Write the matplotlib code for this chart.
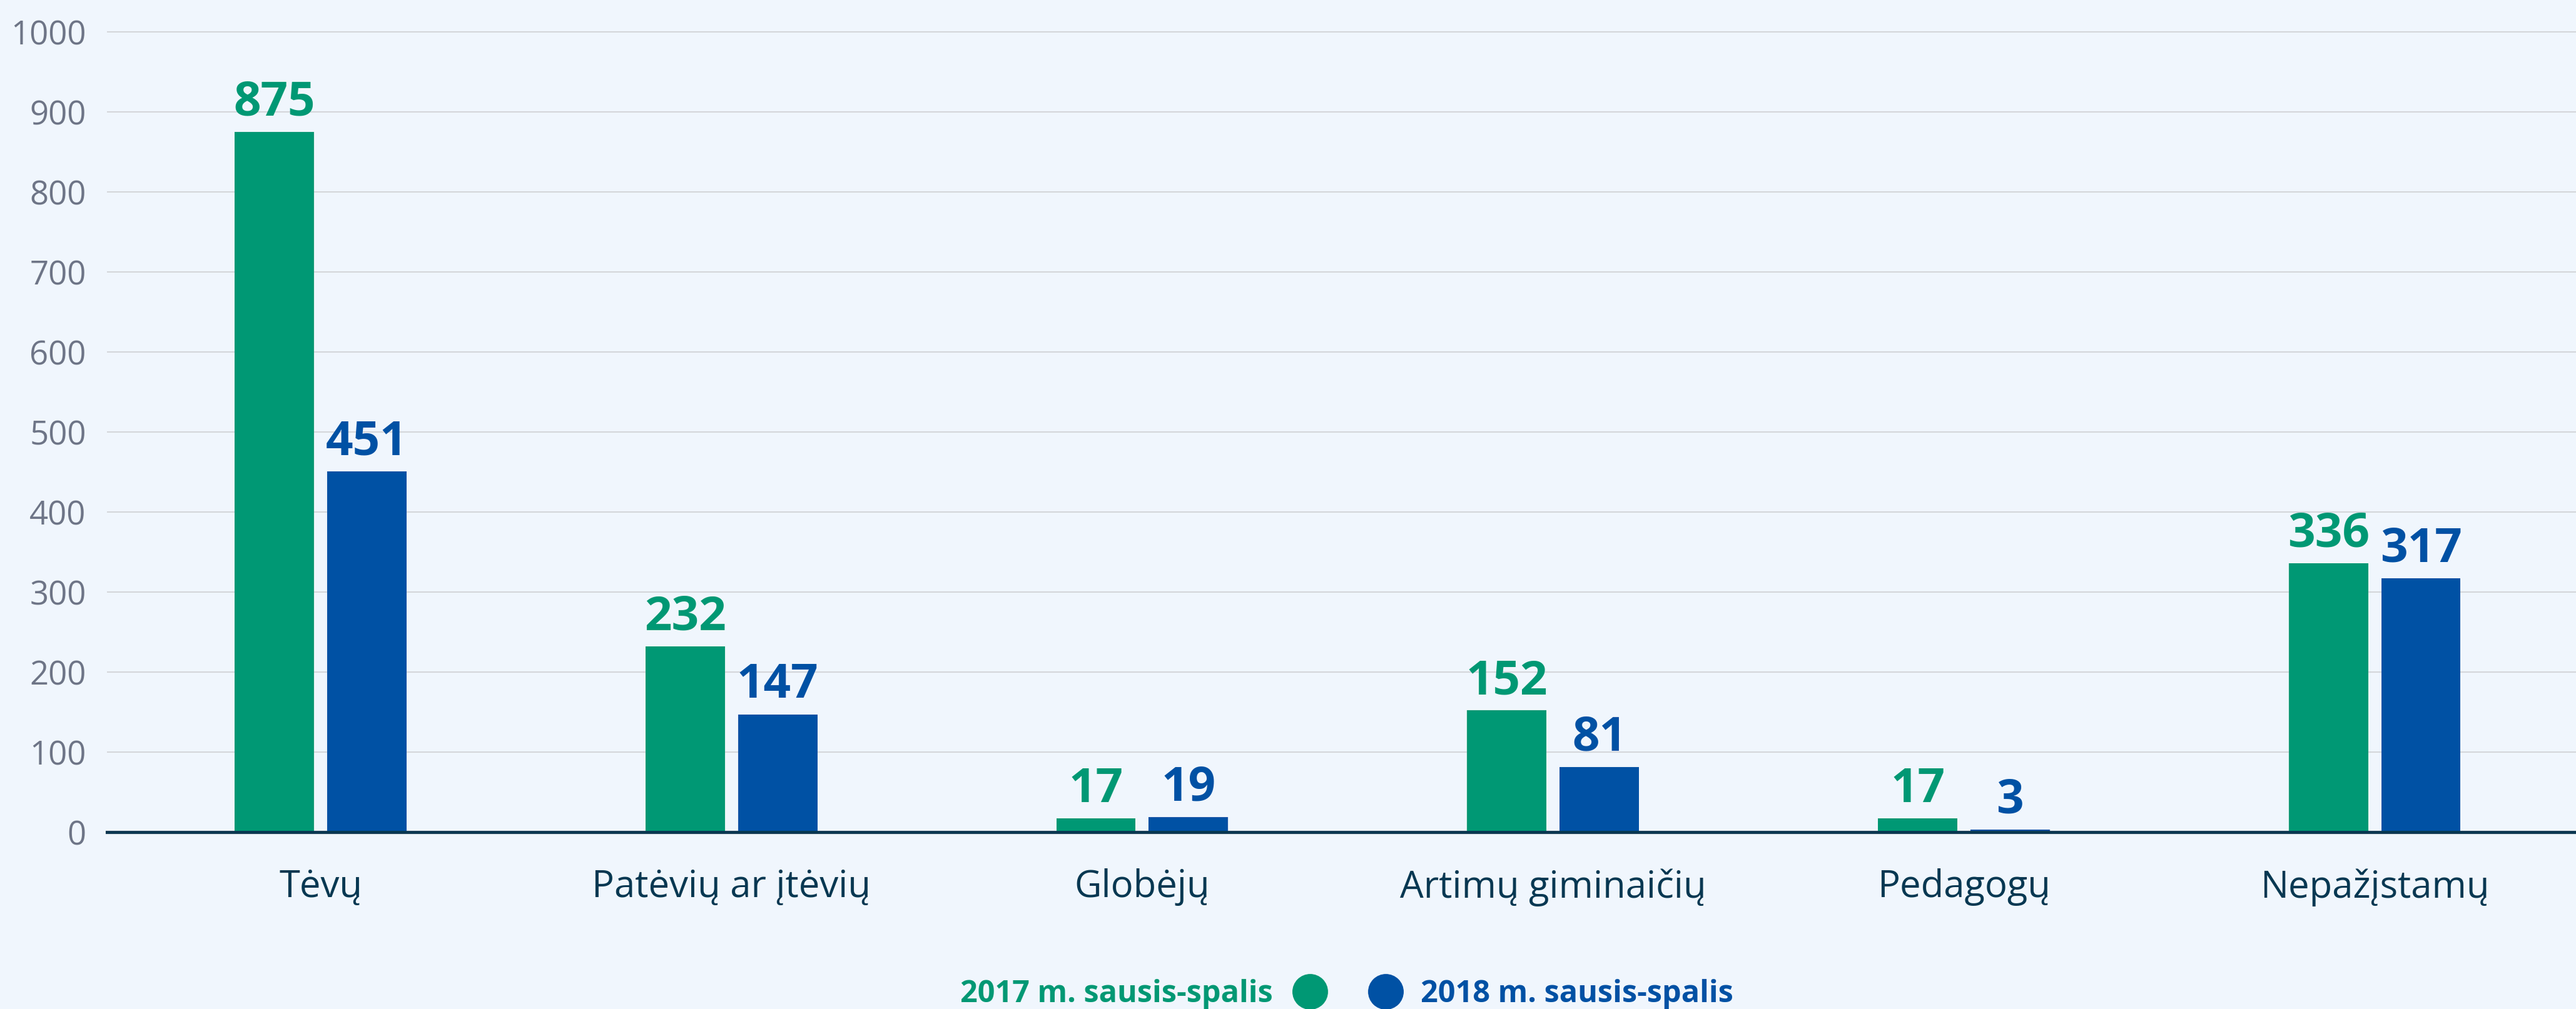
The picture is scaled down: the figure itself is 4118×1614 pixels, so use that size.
import numpy as np
import matplotlib
matplotlib.use("Agg")
import matplotlib.pyplot as plt

categories = ["Tėvų", "Patėvių ar įtėvių", "Globėjų", "Artimų giminaičių", "Pedagogų", "Nepažįstamų"]
values_2017 = [875, 232, 17, 152, 17, 336]
values_2018 = [451, 147, 19, 81, 3, 317]
series_names = ["2017 m. sausis-spalis", "2018 m. sausis-spalis"]
yticks = [0, 100, 200, 300, 400, 500, 600, 700, 800, 900, 1000]

GREEN = "#009874"
BLUE = "#0051A4"
NAVY = "#073852"
BG = "#F0F6FD"

plt.rcParams["font.family"] = ["Open Sans", "DejaVu Sans"]

fig = plt.figure(figsize=(41.18, 16.14), dpi=100, facecolor=BG)
ax = fig.add_axes([171 / 4118, 1 - 1331 / 1614, 1 - 171 / 4118, (1331 - 38) / 1614])
ax.set_facecolor(BG)

x = np.arange(len(categories))
w = 0.193
off = 0.1125
b1 = ax.bar(x - off, values_2017, w, color=GREEN, zorder=3)
b2 = ax.bar(x + off, values_2018, w, color=BLUE, zorder=3)

# value labels above each bar
for bars, vals, col in [(b1, values_2017, GREEN), (b2, values_2018, BLUE)]:
    for rect, v in zip(bars, vals):
        ax.annotate(str(v), (rect.get_x() + rect.get_width() / 2, v),
                    xytext=(0, 19), textcoords="offset points",
                    ha="center", va="baseline", fontsize=55, fontweight="bold",
                    color=col, zorder=4)

ax.set_xlim(-0.52, 5.49)
ax.set_ylim(0, 1010)
ax.set_yticks(yticks)
ax.set_xticks(x)
ax.set_xticklabels(categories)
ax.tick_params(axis="x", length=0, pad=42, labelsize=43, labelcolor=NAVY)
ax.tick_params(axis="y", length=0, pad=24, labelsize=38, labelcolor="#6E7587")
ax.grid(axis="y", color="#D4D6DA", linewidth=1.5, zorder=0)
for s in ["top", "right", "left"]:
    ax.spines[s].set_visible(False)
ax.spines["bottom"].set_color(NAVY)
ax.spines["bottom"].set_linewidth(3.6)
ax.spines["bottom"].set_zorder(5)

# legend: text, dot | dot, text
ly = 1 - 1586 / 1614
fig.text(2035 / 4118, 1 - 1603 / 1614, series_names[0], ha="right", va="baseline",
         fontsize=35, fontweight="bold", color=GREEN)
fig.text(2271 / 4118, 1 - 1603 / 1614, series_names[1], ha="left", va="baseline",
         fontsize=35, fontweight="bold", color=BLUE)
fig.add_artist(plt.Line2D([2094 / 4118], [ly], marker="o", markersize=40, color=GREEN,
                          linestyle="none", transform=fig.transFigure))
fig.add_artist(plt.Line2D([2215 / 4118], [ly], marker="o", markersize=40, color=BLUE,
                          linestyle="none", transform=fig.transFigure))

fig.savefig("out.png", dpi=100, facecolor=BG)
